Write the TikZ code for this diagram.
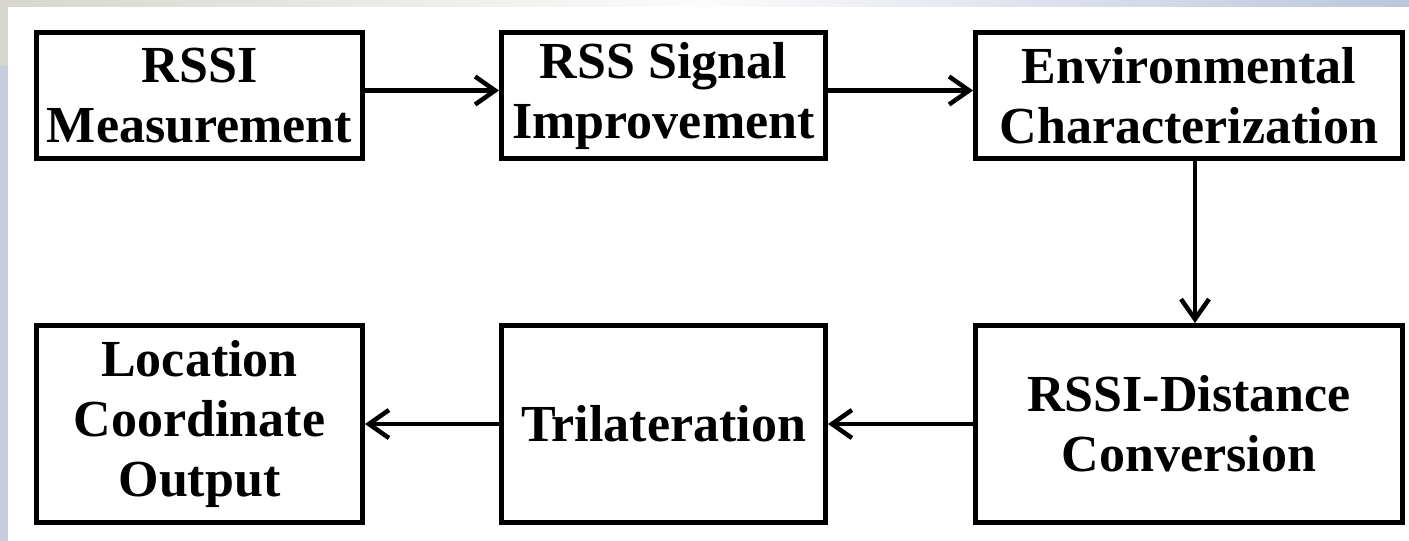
\documentclass[tikz,border=0pt]{standalone}
\usepackage{fontspec}
\setmainfont{Liberation Serif}
\usetikzlibrary{arrows.meta}
\definecolor{framebg}{RGB}{197,205,222}
\definecolor{framegray}{RGB}{214,214,206}
\definecolor{frameblue}{RGB}{188,197,220}
\begin{document}
\begin{tikzpicture}[x=1pt,y=-1pt,
  stage/.style={draw=black, line width=5pt, fill=white, align=center,
    font=\fontsize{52}{60}\selectfont\bfseries, inner sep=0pt},
  topbox/.style={stage, minimum height=126pt},
  lowbox/.style={stage, minimum height=197pt},
  flow/.style={line width=4.5pt,
    -{Straight Barb[length=20pt,width=28pt,line width=4.5pt]}}]

% page frame: tinted margin on the left and top, white sheet
\useasboundingbox (0,0) rectangle (1409,541);
\fill[framebg] (0,0) rectangle (1409,541);
\fill[framegray] (0,0) rectangle (8,66);
\shade[left color=framegray, right color=frameblue, middle color=white!92!framegray]
  (0,0) rectangle (1409,7);
\fill[white] (8,7) rectangle (1409,541);

% processing stages
\node[topbox, minimum width=326pt] (meas)  at (199.5,95.5) {RSSI\\Measurement};
\node[topbox, minimum width=324pt] (impr)  at (663.5,95.5) {RSS Signal\\Improvement};
\node[topbox, minimum width=427pt] (env)   at (1189,95.5)  {Environmental\\Characterization};
\node[lowbox, minimum width=326pt] (loc)   at (199.5,424)  {Location\\Coordinate\\Output};
\node[lowbox, minimum width=324pt] (tri)   at (663.5,424)  {Trilateration};
\node[lowbox, minimum width=427pt] (conv)  at (1189,424)   {RSSI-Distance\\Conversion};

% data flow
\draw[flow] ([yshift=5pt]meas.east) -- ([yshift=5pt]impr.west);
\draw[flow] ([yshift=5pt]impr.east) -- ([yshift=5pt]env.west);
\draw[flow] ([xshift=6pt]env.south) -- ([xshift=6pt]conv.north);
\draw[flow] (conv.west) -- (tri.east);
\draw[flow] (tri.west) -- (loc.east);
\end{tikzpicture}
\end{document}
